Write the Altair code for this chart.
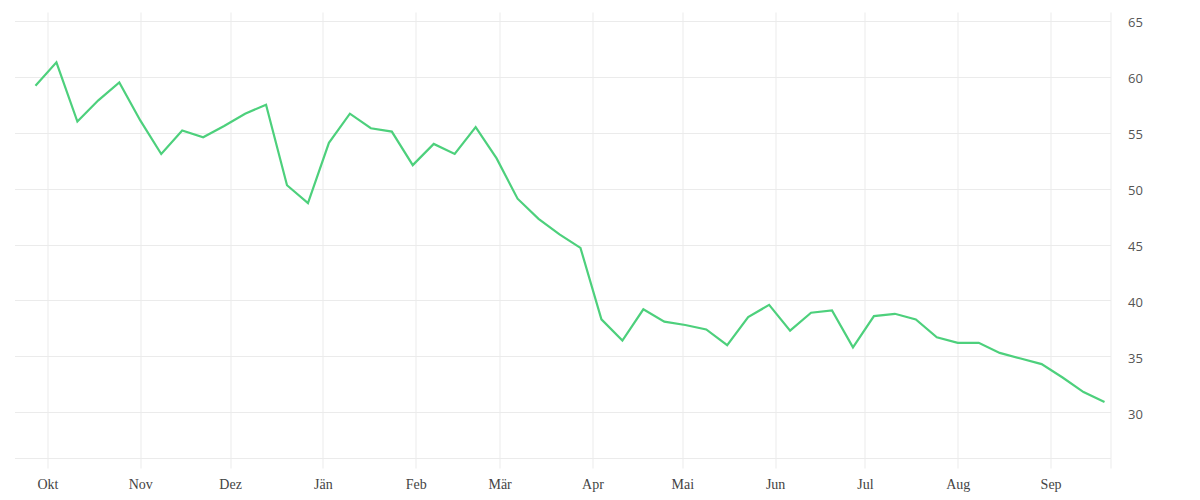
import altair as alt
import pandas as pd

start_date = "2022-09-27"
values = [
    59.2, 61.3, 56.0, 57.9, 59.5, 56.1, 53.1, 55.2, 54.6, 55.6,
    56.7, 57.5, 50.3, 48.7, 54.1, 56.7, 55.4, 55.1, 52.1, 54.0,
    53.1, 55.5, 52.7, 49.1, 47.3, 45.9, 44.7, 38.3, 36.4, 39.2,
    38.1, 37.8, 37.4, 36.0, 38.5, 39.6, 37.3, 38.9, 39.1, 35.8,
    38.6, 38.8, 38.3, 36.7, 36.2, 36.2, 35.3, 34.8, 34.3, 33.1,
    31.8, 30.9,
]
dates = pd.date_range(start_date, periods=len(values), freq="7D").strftime("%Y-%m-%d %H:%M").tolist()
month_names = ["Jän", "Feb", "Mär", "Apr", "Mai", "Jun", "Jul", "Aug", "Sep", "Okt", "Nov", "Dez"]
y_ticks = [30, 35, 40, 45, 50, 55, 60, 65]

df = pd.DataFrame({"date": dates, "value": values})

tick_dates = [alt.DateTime(year=2022, month=m, date=1) for m in (10, 11, 12)] + \
             [alt.DateTime(year=2023, month=m, date=1) for m in range(1, 10)] + \
             [alt.DateTime(year=2023, month=9, date=21)]

names_js = "[" + ",".join("'%s'" % n for n in month_names) + "]"
label_expr = f"date(datum.value) == 1 ? {names_js}[month(datum.value)] : ''"

chart = alt.Chart(df).mark_line(color="#4dd07c", strokeWidth=2.2).encode(
    x=alt.X(
        "date:T",
        scale=alt.Scale(domain=[alt.DateTime(year=2022, month=9, date=20),
                                alt.DateTime(year=2023, month=9, date=21)]),
        axis=alt.Axis(
            title=None,
            values=tick_dates,
            labelExpr=label_expr,
            grid=True,
            gridColor="#ebebeb",
            tickColor="#ebebeb",
            tickSize=10,
            domainColor="#ebebeb",
            labelFont="Liberation Serif",
            labelFontSize=14,
            labelColor="#444444",
            labelPadding=9,
        ),
    ),
    y=alt.Y(
        "value:Q",
        scale=alt.Scale(domain=[25.9, 65.8], nice=False, zero=False),
        axis=alt.Axis(
            title=None,
            orient="right",
            values=y_ticks,
            grid=True,
            gridColor="#ebebeb",
            ticks=False,
            domain=False,
            labelFont="Open Sans",
            labelFontSize=13,
            labelColor="#555555",
            labelPadding=17,
            labelOffset=2,
        ),
    ),
).properties(
    width=1096,
    height=446,
    autosize="none",
    padding={"left": 6.5, "top": 4, "right": 70, "bottom": 40},
).configure_view(stroke=None)

chart.save("out.html", embed_options={"renderer": "svg", "actions": False})
